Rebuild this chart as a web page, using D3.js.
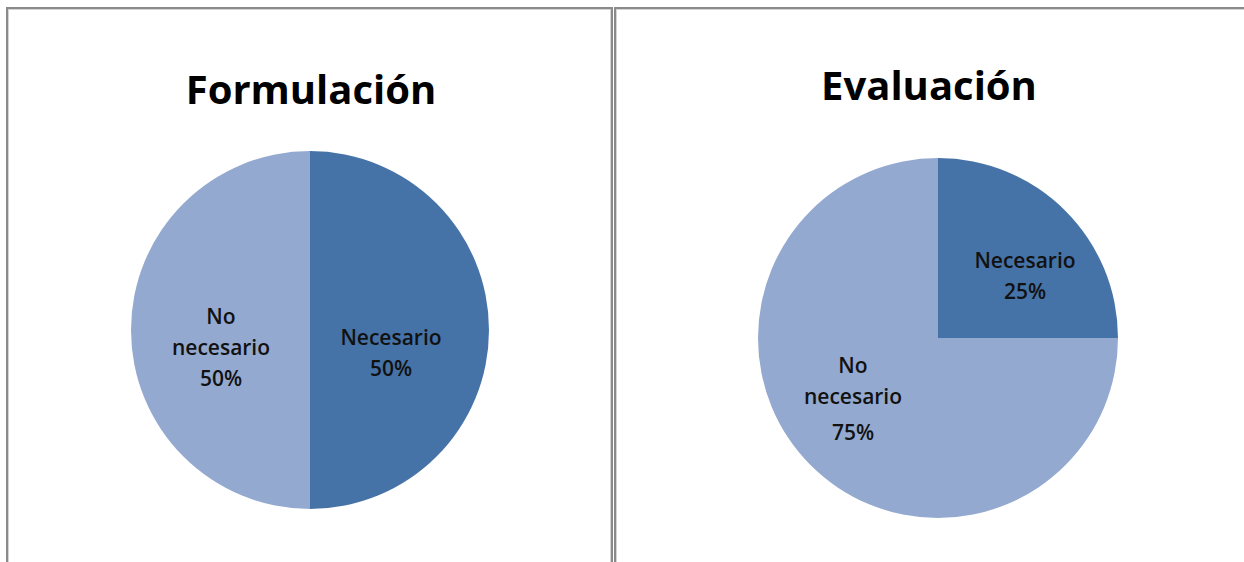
<!DOCTYPE html>
<html><head><meta charset="utf-8">
<script src="https://cdn.jsdelivr.net/npm/d3@7"></script>
<style>body{margin:0;background:#fff;} svg{display:block;}</style>
</head><body>
<svg id="c" width="1244" height="562"></svg>
<script>
const categories = ["Necesario", "No necesario"];
const titles = ["Formulación", "Evaluación"];
const formulacionValues = [50, 50];
const evaluacionValues = [25, 75];
const colors = ["#4673A7", "#94A9CF"];

const svg = d3.select("#c");
const font = "'Open Sans', 'Liberation Sans', sans-serif";

const panels = [
  {x0: 7, x1: 612, cx: 310, cy: 330, r: 179, ty: 104, tx: 311, values: formulacionValues, title: titles[0],
   labels: [{x: 391, y: [345, 376]}, {x: 221, y: [324, 355, 386]}]},
  {x0: 615, x1: 1250, cx: 938, cy: 338, r: 180, ty: 100, tx: 929, values: evaluacionValues, title: titles[1],
   labels: [{x: 1025, y: [268, 299]}, {x: 853, y: [373, 404, 440]}]}
];

panels.forEach(p => {
  svg.append("rect").attr("x", p.x0).attr("y", 8).attr("width", p.x1 - p.x0).attr("height", 570)
    .attr("fill", "none").attr("stroke", "#8a8a8a").attr("stroke-width", 2);
  svg.append("rect").attr("x", p.x0 + 1.5).attr("y", 9.5).attr("width", p.x1 - p.x0 - 3).attr("height", 570)
    .attr("fill", "none").attr("stroke", "#d4d4d4").attr("stroke-width", 1);

  svg.append("text").attr("x", p.tx).attr("y", p.ty).attr("text-anchor", "middle")
    .attr("font-family", font).attr("font-weight", 700).attr("font-size", 40).attr("fill", "#000")
    .text(p.title);

  const pie = d3.pie().sort(null).value(d => d)(p.values);
  const arc = d3.arc().innerRadius(0).outerRadius(p.r);
  const g = svg.append("g").attr("transform", `translate(${p.cx},${p.cy})`);
  g.selectAll("path").data(pie).join("path").attr("d", arc).attr("fill", (d, i) => colors[i]);

  pie.forEach((d, i) => {
    const lines = (i === 0 ? [categories[0]] : ["No", "necesario"]).concat([d3.format(".0%")(d.value / 100)]);
    const L = p.labels[i];
    lines.forEach((t, k) => {
      svg.append("text").attr("x", L.x).attr("y", L.y[k]).attr("text-anchor", "middle")
        .attr("font-family", font).attr("font-weight", 600).attr("font-size", 21).attr("fill", "#111")
        .text(t);
    });
  });
});
</script>
</body></html>
